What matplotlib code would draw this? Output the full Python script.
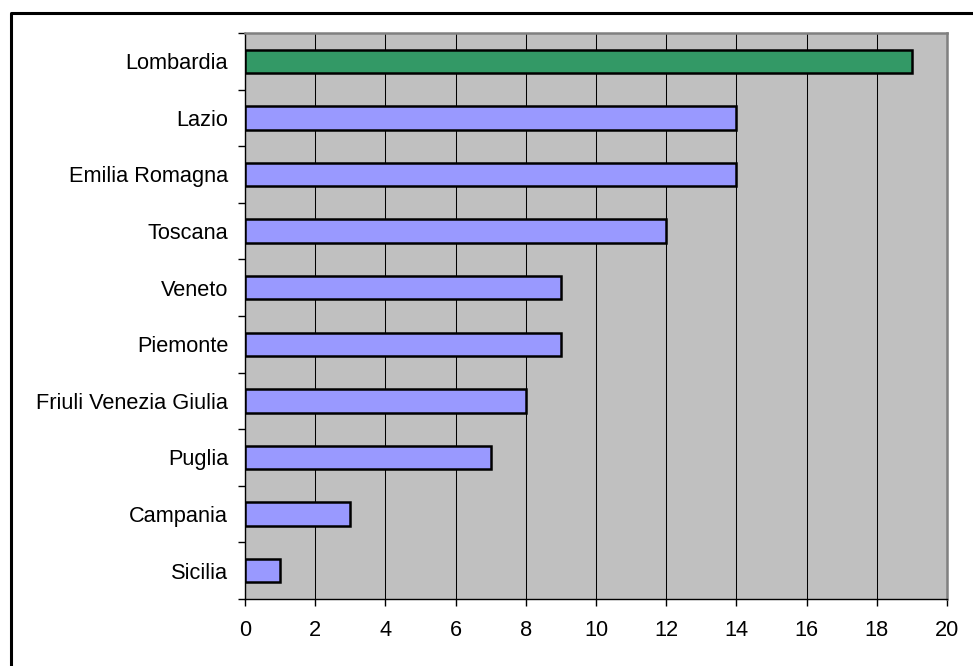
import matplotlib
matplotlib.use("Agg")
import matplotlib.pyplot as plt
from matplotlib.lines import Line2D
import numpy as np

plt.rcParams["font.family"] = ["Liberation Sans", "DejaVu Sans"]

# Regions, top to bottom
regions = ["Lombardia", "Lazio", "Emilia Romagna", "Toscana", "Veneto",
           "Piemonte", "Friuli Venezia Giulia", "Puglia", "Campania", "Sicilia"]
counts = [19, 14, 14, 12, 9, 9, 8, 7, 3, 1]
bar_colors = ["#339966"] + ["#9999FF"] * 9
x_ticks = list(range(0, 21, 2))

W, H = 973, 666
fig = plt.figure(figsize=(W / 100, H / 100), dpi=100)
fig.patch.set_facecolor("white")
ax = fig.add_axes([245 / W, 1 - 599 / H, 702 / W, 566 / H])
ax.set_facecolor("#C0C0C0")

y = np.arange(len(regions))
ax.barh(y, counts, height=0.41, color=bar_colors, edgecolor="black",
        linewidth=1.8, zorder=3)

ax.set_xlim(0, 20)
ax.set_ylim(len(regions) - 0.5, -0.5)

# x axis
ax.set_xticks(x_ticks)
ax.set_xticklabels([str(t) for t in x_ticks])
ax.tick_params(axis="x", direction="out", length=5, width=1, pad=10,
               labelsize=15.7, colors="black")
ax.xaxis.grid(True, color="black", linewidth=0.75)
ax.set_axisbelow(True)

# y axis: ticks between categories, labels at centres
ax.set_yticks(np.arange(len(regions) + 1) - 0.5)
ax.set_yticklabels([])
ax.set_yticks(y, minor=True)
ax.set_yticklabels(regions, minor=True)
ax.tick_params(axis="y", which="major", direction="out", length=5, width=1)
ax.tick_params(axis="y", which="minor", length=0, pad=12, labelsize=15.7)

for side in ("left", "bottom"):
    ax.spines[side].set_color("black")
    ax.spines[side].set_linewidth(1)
for side in ("top", "right"):
    ax.spines[side].set_color("#808080")
    ax.spines[side].set_linewidth(1.8)

# outer chart frame
fx = 10.5 / W
fy = 1 - 12.5 / H
fig.add_artist(Line2D([fx, fx, 1.05], [-0.05, fy, fy], transform=fig.transFigure,
                      color="black", linewidth=2.2))

fig.savefig("out.png", dpi=100)
